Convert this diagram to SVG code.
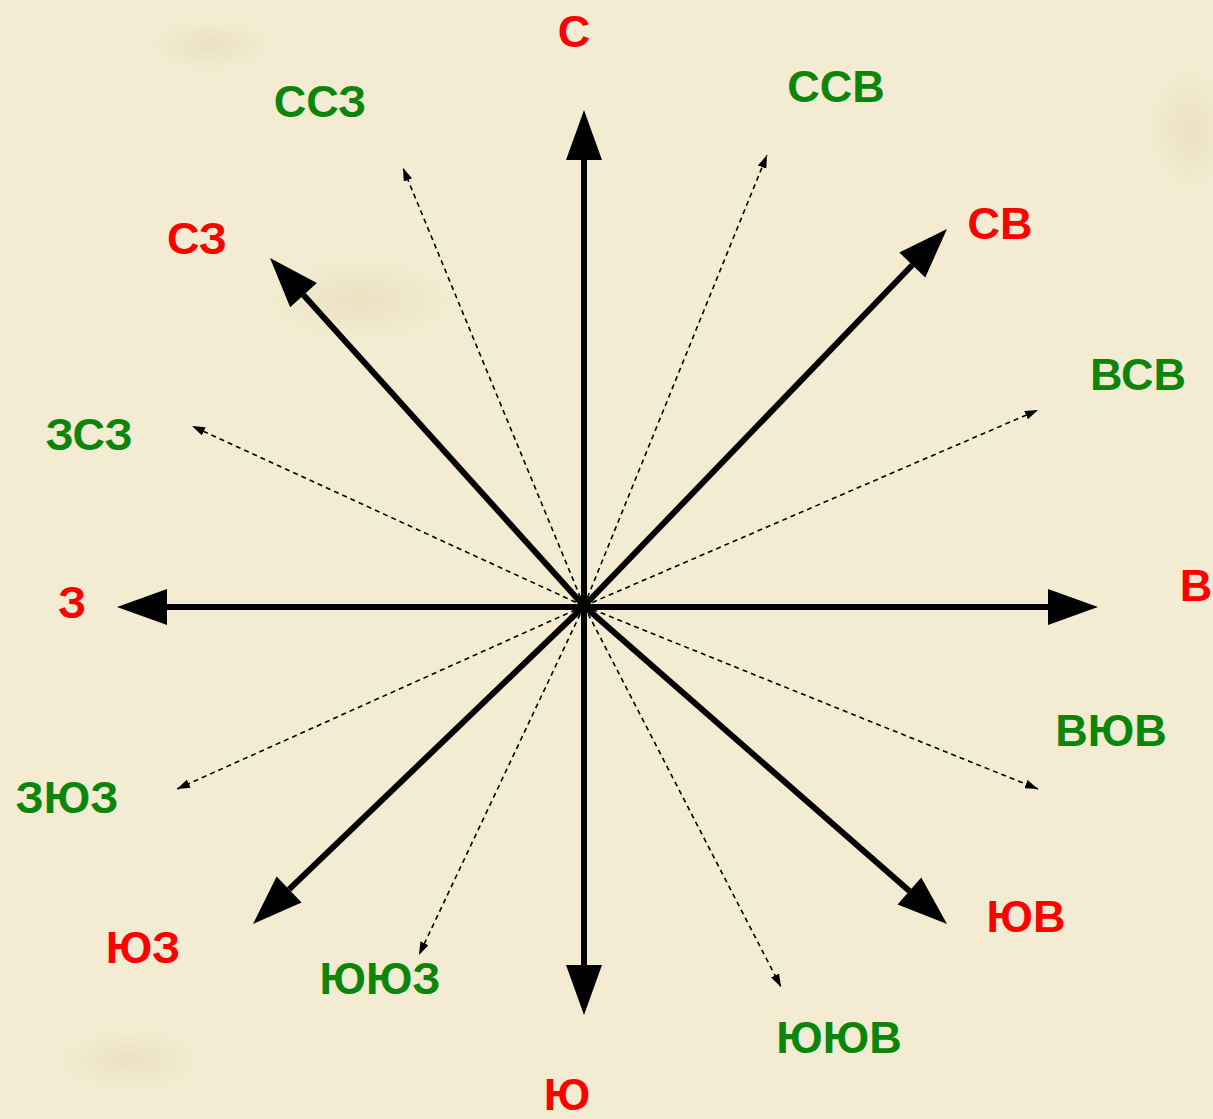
<svg xmlns="http://www.w3.org/2000/svg" width="1213" height="1119" viewBox="0 0 1213 1119">
<style>
.main{stroke:#000;stroke-width:6;fill:none;marker-end:url(#bigHead)}
.minor{stroke:#000;stroke-width:1.6;fill:none;stroke-dasharray:5 4;marker-end:url(#smallHead)}
.lbl{font-family:"Liberation Sans",Arial,sans-serif;font-weight:bold;font-size:45px;text-anchor:middle}
.red{fill:#ff0000}
.green{fill:#0b860b}
</style>
<defs>
<marker id="bigHead" markerUnits="userSpaceOnUse" viewBox="0 0 50 36" refX="0" refY="18" markerWidth="50" markerHeight="36" orient="auto" overflow="visible">
<path d="M0,0 L50,18 L0,36 Z" fill="#000"/>
</marker>
<marker id="smallHead" markerUnits="userSpaceOnUse" viewBox="0 0 13 9" refX="13" refY="4.5" markerWidth="13" markerHeight="9" orient="auto">
<path d="M0,0 L13,4.5 L0,9 Z" fill="#000"/>
</marker>
<radialGradient id="blot" cx="0.5" cy="0.5" r="0.5">
<stop offset="0" stop-color="#e6d9b4" stop-opacity="0.6"/>
<stop offset="1" stop-color="#e6d9b4" stop-opacity="0"/>
</radialGradient>
</defs>
<rect width="1213" height="1119" fill="#f3ecd2"/>
<ellipse cx="360" cy="300" rx="90" ry="40" fill="url(#blot)"/>
<ellipse cx="1190" cy="130" rx="40" ry="60" fill="url(#blot)"/>
<ellipse cx="210" cy="45" rx="60" ry="25" fill="url(#blot)"/>
<ellipse cx="130" cy="1060" rx="70" ry="30" fill="url(#blot)"/>
<g id="connectors">
<line class="minor" x1="584" y1="606" x2="403" y2="168"/>
<line class="minor" x1="584" y1="606" x2="767" y2="155"/>
<line class="minor" x1="584" y1="606" x2="1038" y2="410"/>
<line class="minor" x1="584" y1="606" x2="192" y2="426"/>
<line class="minor" x1="584" y1="606" x2="177" y2="789"/>
<line class="minor" x1="584" y1="606" x2="1038" y2="789"/>
<line class="minor" x1="584" y1="606" x2="419" y2="955"/>
<line class="minor" x1="584" y1="606" x2="781" y2="987"/>
<line class="main" x1="584" y1="606" x2="584" y2="160"/>
<line class="main" x1="584" y1="606" x2="584" y2="965"/>
<line class="main" x1="584" y1="607" x2="1048" y2="607"/>
<line class="main" x1="584" y1="607" x2="167" y2="607"/>
<line class="main" x1="584" y1="606" x2="912.3" y2="265"/>
<line class="main" x1="584" y1="606" x2="303.5" y2="295.1"/>
<line class="main" x1="584" y1="606" x2="289.1" y2="889.4"/>
<line class="main" x1="584" y1="606" x2="909.4" y2="891"/>
</g>
<g id="n-N"><text class="lbl red" x="574" y="47">С</text></g>
<g id="n-NNW"><text class="lbl green" x="320" y="117">ССЗ</text></g>
<g id="n-NNE"><text class="lbl green" x="836" y="102">ССВ</text></g>
<g id="n-NW"><text class="lbl red" x="197" y="254">СЗ</text></g>
<g id="n-NE"><text class="lbl red" x="1000" y="239">СВ</text></g>
<g id="n-ENE"><text class="lbl green" x="1138" y="390">ВСВ</text></g>
<g id="n-WNW"><text class="lbl green" x="89" y="450">ЗСЗ</text></g>
<g id="n-W"><text class="lbl red" x="72" y="618">З</text></g>
<g id="n-E"><text class="lbl red" x="1196" y="601">В</text></g>
<g id="n-ESE"><text class="lbl green" x="1111" y="746">ВЮВ</text></g>
<g id="n-WSW"><text class="lbl green" x="67" y="813">ЗЮЗ</text></g>
<g id="n-SE"><text class="lbl red" x="1026" y="932">ЮВ</text></g>
<g id="n-SW"><text class="lbl red" x="143" y="963">ЮЗ</text></g>
<g id="n-SSW"><text class="lbl green" x="380" y="994">ЮЮЗ</text></g>
<g id="n-SSE"><text class="lbl green" x="839" y="1053">ЮЮВ</text></g>
<g id="n-S"><text class="lbl red" x="567" y="1110">Ю</text></g>
</svg>
